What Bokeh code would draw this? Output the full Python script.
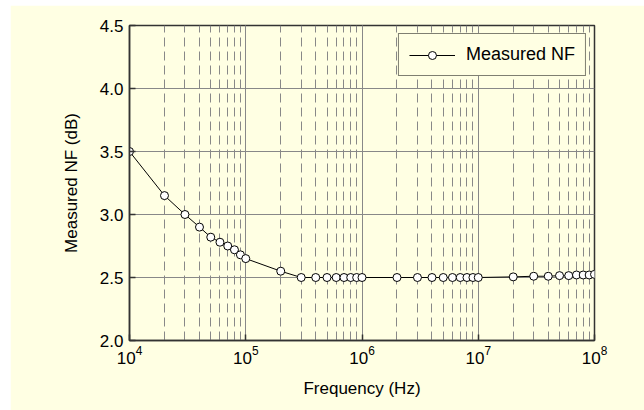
from bokeh.plotting import figure
from bokeh.models import LogTicker, Spacer, Legend, LegendItem, PrintfTickFormatter
from bokeh.layouts import column, row
from bokeh.embed import file_html
from bokeh.resources import INLINE

freq_hz = [1e4, 2e4, 3e4, 4e4, 5e4, 6e4, 7e4, 8e4, 9e4,
           1e5, 2e5, 3e5, 4e5, 5e5, 6e5, 7e5, 8e5, 9e5,
           1e6, 2e6, 3e6, 4e6, 5e6, 6e6, 7e6, 8e6, 9e6,
           1e7, 2e7, 3e7, 4e7, 5e7, 6e7, 7e7, 8e7, 9e7, 1e8]
nf_db = [3.50, 3.15, 3.00, 2.90, 2.82, 2.78, 2.75, 2.72, 2.68,
         2.65, 2.55, 2.50, 2.50, 2.50, 2.50, 2.50, 2.50, 2.50,
         2.50, 2.50, 2.50, 2.50, 2.50, 2.50, 2.50, 2.50, 2.50,
         2.50, 2.505, 2.51, 2.51, 2.515, 2.515, 2.52, 2.52, 2.52, 2.525]
y_ticks = [2.0, 2.5, 3.0, 3.5, 4.0, 4.5]

CREAM = "#FFFFE3"
FONT = "Liberation Sans"
DARK = "#333333"

p = figure(x_axis_type="log", x_range=(1e4, 1e8), y_range=(2.0, 4.5),
           frame_width=465, frame_height=315,
           min_border_left=119, min_border_top=20, min_border_right=50, min_border_bottom=70,
           output_backend="svg", toolbar_location=None,
           background_fill_color=CREAM, border_fill_color=CREAM)

p.outline_line_color = DARK
p.outline_line_width = 1.5

p.xaxis.ticker = LogTicker(num_minor_ticks=10)
p.yaxis.ticker = y_ticks
p.yaxis.formatter = PrintfTickFormatter(format="%.1f")

for ax in (p.xaxis, p.yaxis):
    ax.axis_line_color = DARK
    ax.axis_line_width = 1.5
    ax.major_tick_line_color = DARK
    ax.major_tick_line_width = 1.5
    ax.major_tick_in = 6
    ax.major_tick_out = 0
    ax.minor_tick_in = 0
    ax.minor_tick_out = 0
    ax.major_label_text_font = FONT
    ax.major_label_text_font_size = "17px"
    ax.major_label_text_color = "black"
    ax.axis_label_text_font = FONT
    ax.axis_label_text_font_size = "17px"
    ax.axis_label_text_font_style = "normal"
    ax.axis_label_text_color = "black"

p.xaxis.axis_label = "Frequency (Hz)"
p.yaxis.axis_label = "Measured NF (dB)"
p.yaxis.major_label_standoff = 6
p.yaxis.axis_label_standoff = 16
p.xaxis.major_label_standoff = 5
p.xaxis.axis_label_standoff = 12

p.xgrid.grid_line_color = "#888888"
p.xgrid.grid_line_width = 1
p.xgrid.minor_grid_line_color = "#888888"
p.xgrid.minor_grid_line_dash = "9 5"
p.xgrid.minor_grid_line_width = 1
p.ygrid.grid_line_color = "#888888"
p.ygrid.grid_line_width = 1

ln = p.line(freq_hz, nf_db, line_color="black", line_width=1)
pts = p.scatter(freq_hz, nf_db, size=8, marker="circle", fill_color="white",
                line_color="black", line_width=1)

legend = Legend(items=[LegendItem(label="Measured NF", renderers=[ln, pts])],
                location="top_right")
legend.margin = 8
legend.padding = 10
legend.glyph_width = 46
legend.label_standoff = 11
legend.label_text_font = FONT
legend.label_text_font_size = "18px"
legend.label_text_color = "black"
legend.background_fill_color = CREAM
legend.background_fill_alpha = 1
legend.border_line_color = "black"
legend.border_line_width = 1.5
p.add_layout(legend)

layout = column(Spacer(height=5), row(Spacer(width=10), p))
open("out.html", "w").write(file_html(layout, INLINE))
